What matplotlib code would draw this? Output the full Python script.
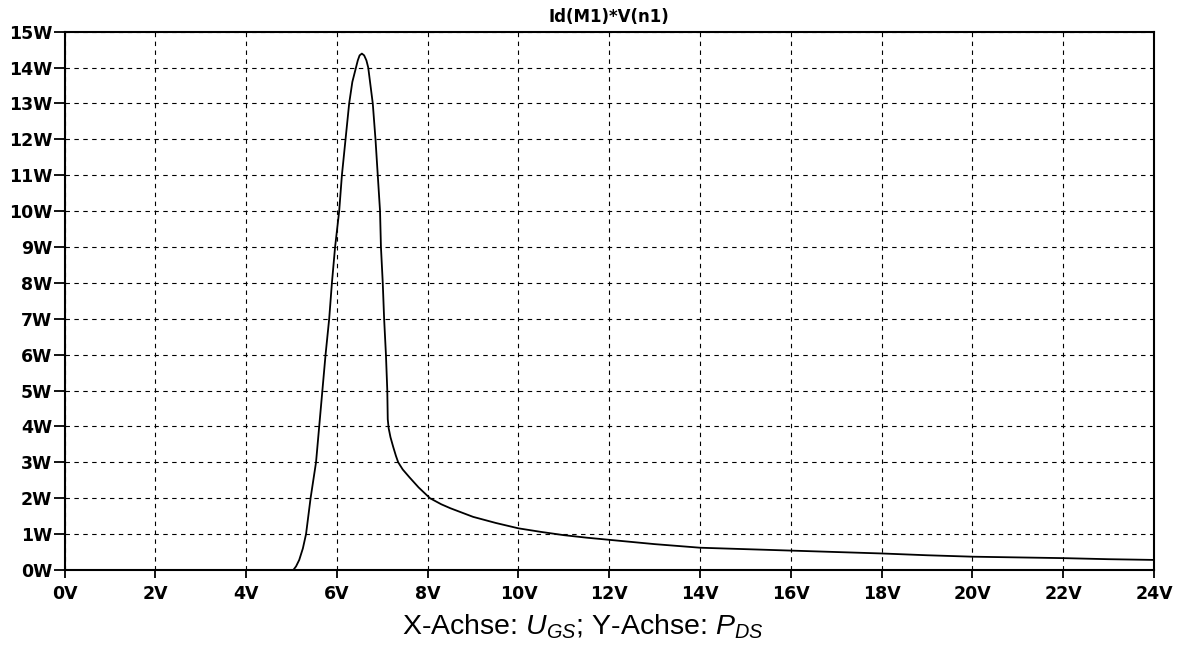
import matplotlib
matplotlib.use('Agg')
import matplotlib.pyplot as plt

ugs = [0.0, 5.04, 5.1, 5.17, 5.25, 5.32, 5.42, 5.54, 5.61, 5.68, 5.75, 5.83,
       5.89, 5.96, 6.05, 6.11, 6.19, 6.27, 6.34, 6.42, 6.46, 6.5, 6.55, 6.6,
       6.65, 6.69, 6.79, 6.85, 6.90, 6.95, 6.97, 7.01, 7.04, 7.08, 7.11, 7.12,
       7.14, 7.18, 7.24, 7.3, 7.35, 7.45, 7.6, 7.8, 8.05, 8.3, 8.5, 8.75,
       9.0, 9.5, 10.0, 10.5, 11.0, 11.5, 12.0, 13.0, 14.0, 15.0, 16.0, 17.0,
       18.0, 19.0, 20.0, 21.0, 22.0, 23.0, 24.0]
pds = [0.0, 0.0, 0.1, 0.28, 0.6, 1.0, 2.0, 3.0, 4.0, 5.0, 6.0, 7.0,
       8.0, 9.0, 10.0, 11.0, 12.0, 13.0, 13.6, 14.0, 14.2, 14.34, 14.39, 14.34,
       14.2, 14.0, 13.0, 12.0, 11.0, 10.0, 9.0, 8.0, 7.0, 6.0, 5.0, 4.2,
       3.95, 3.7, 3.43, 3.18, 3.0, 2.8, 2.58, 2.3, 2.0, 1.83, 1.72, 1.6,
       1.48, 1.31, 1.16, 1.06, 0.97, 0.9, 0.84, 0.72, 0.62, 0.58, 0.54, 0.5,
       0.46, 0.41, 0.37, 0.35, 0.33, 0.3, 0.28]

xticks = list(range(0, 25, 2))
yticks = list(range(0, 16))
xlabels = [f'{v}V' for v in xticks]
ylabels = [f'{v}W' for v in yticks]

plt.rcParams['mathtext.fontset'] = 'custom'
plt.rcParams['mathtext.rm'] = 'Liberation Sans'
plt.rcParams['mathtext.it'] = 'Liberation Sans:italic'

fig = plt.figure(figsize=(11.84, 6.59), dpi=100)
ax = fig.add_axes([0.0545, 0.1351, 0.9202, 0.8168])

ax.plot(ugs, pds, color='black', linewidth=1.3, zorder=3)

ax.set_xlim(0, 24)
ax.set_ylim(0, 15)
ax.set_xticks(xticks)
ax.set_xticklabels(xlabels)
ax.set_yticks(yticks)
ax.set_yticklabels(ylabels)

for lab in ax.get_xticklabels() + ax.get_yticklabels():
    lab.set_fontweight('bold')
    lab.set_fontsize(12.5)

ax.tick_params(axis='x', direction='out', length=6, width=1.3, pad=5, color='black')
ax.tick_params(axis='y', direction='out', length=8, width=1.3, pad=1, color='black')

ax.grid(True, color='black', linestyle=(0, (4, 4)), linewidth=0.8)

for s in ax.spines.values():
    s.set_linewidth(1.5)
    s.set_color('black')

ax.set_title('Id(M1)*V(n1)', fontsize=12, fontweight='bold', pad=7)

fig.text(0.4924, 0.0486, r'X-Achse: $U_{GS}$; Y-Achse: $P_{DS}$',
         ha='center', va='center', fontsize=20.5, family='Liberation Sans')

fig.savefig('out.png', dpi=100)
